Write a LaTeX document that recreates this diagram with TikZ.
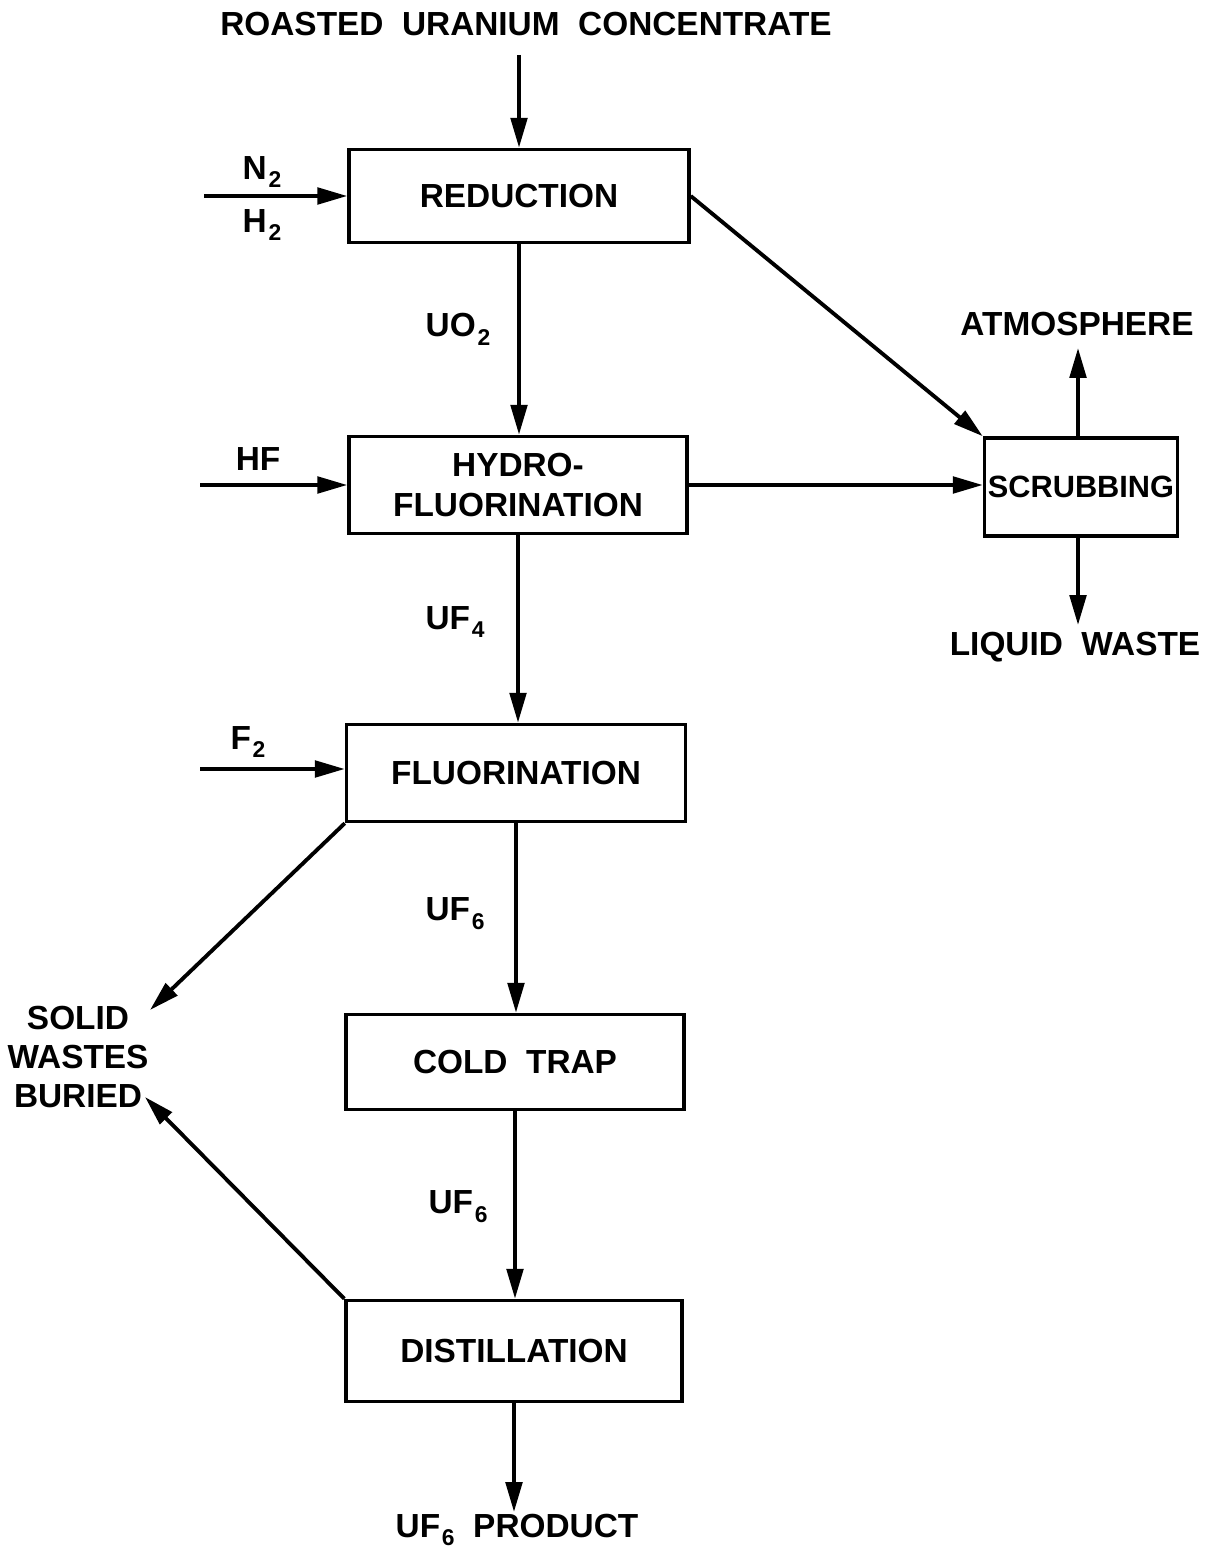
\documentclass[tikz,border=0pt]{standalone}
\usepackage{fontspec}
\setmainfont{Liberation Sans}
\usetikzlibrary{arrows.meta}
\newcommand{\subsc}[1]{\hspace{1pt}\raisebox{-0.5ex}{\fontsize{13}{13}\selectfont #1}}
\tikzset{
  lbl/.style={font=\fontsize{19}{21}\selectfont\bfseries, inner sep=0pt},
  procbox/.style={draw, line width=2pt, lbl, align=center},
  flow/.style={line width=2.2pt, -{Triangle[length=6mm,width=3.3mm]}}
}
\begin{document}
\begin{tikzpicture}[x=0.02cm,y=-0.02cm]
\useasboundingbox (0,0) rectangle (1208,1550);
% boxes
\node[procbox, minimum width=6.8cm, minimum height=1.86cm] (red) at (519,196) {REDUCTION};
\node[procbox, minimum width=6.76cm, minimum height=1.94cm] (hyd) at (518,485) {HYDRO-\\[2pt]FLUORINATION};
\node[procbox, minimum width=6.78cm, minimum height=1.94cm] (flu) at (516,773) {FLUORINATION};
\node[procbox, minimum width=6.76cm, minimum height=1.9cm] (cold) at (515,1062) {COLD \ TRAP};
\node[procbox, minimum width=6.72cm, minimum height=2.02cm] (dist) at (514,1351) {DISTILLATION};
\node[procbox, minimum width=3.86cm, minimum height=1.96cm, font=\fontsize{17.5}{19}\selectfont\bfseries] (scrub) at (1081,487) {SCRUBBING};
% text nodes
\node[lbl] (feed) at (526,24) {ROASTED \ URANIUM \ CONCENTRATE};
\node[lbl] (atm) at (1077,324) {ATMOSPHERE};
\node[lbl] (liq) at (1075,647) {LIQUID \ WASTE};
\node[lbl, align=center, font=\fontsize{19}{22}\selectfont\bfseries] (solid) at (78,1057) {SOLID\\WASTES\\BURIED};
\node[lbl] (prod) at (517,1530) {UF\subsc{6} \ PRODUCT};
\node[lbl] (n2) at (262,172) {N\subsc{2}};
\node[lbl] (h2) at (262,225) {H\subsc{2}};
\node[lbl] (hf) at (258,459) {HF};
\node[lbl] (f2) at (248,742) {F\subsc{2}};
\node[lbl] (uo2) at (458,329) {UO\subsc{2}};
\node[lbl] (uf4) at (455,622) {UF\subsc{4}};
\node[lbl] (uf6a) at (455,914) {UF\subsc{6}};
\node[lbl] (uf6b) at (458,1207) {UF\subsc{6}};
% coordinates
\coordinate (feedend) at (519,55);
\coordinate (nh) at (204,196);
\coordinate (hfin) at (200,485);
\coordinate (f2in) at (200,769);
\coordinate (atmend) at (1078,348);
\coordinate (liqend) at (1078,625);
\coordinate (solidend) at (150,1010);
\coordinate (buriedend) at (145,1097);
\coordinate (prodend) at (515,1512);
% connectors
\draw[flow] (feedend) -- (red.north);
\draw[flow] (nh) -- (nh -| red.west);
\draw[flow] (red.south) -- (red.south |- hyd.north);
\draw[flow] (hfin) -- (hfin -| hyd.west);
\draw[flow] (red.east) -- (scrub.north west);
\draw[flow] (hyd.east) -- (hyd.east -| scrub.west);
\draw[flow] (scrub.north -| atmend) -- (atmend);
\draw[flow] (scrub.south -| liqend) -- (liqend);
\draw[flow] (hyd.south) -- (hyd.south |- flu.north);
\draw[flow] (f2in) -- (f2in -| flu.west);
\draw[flow] (flu.south west) -- (solidend);
\draw[flow] (flu.south) -- (flu.south |- cold.north);
\draw[flow] (cold.south) -- (cold.south |- dist.north);
\draw[flow] (dist.north west) -- (buriedend);
\draw[flow] (dist.south) -- (dist.south |- prodend);
\end{tikzpicture}
\end{document}
